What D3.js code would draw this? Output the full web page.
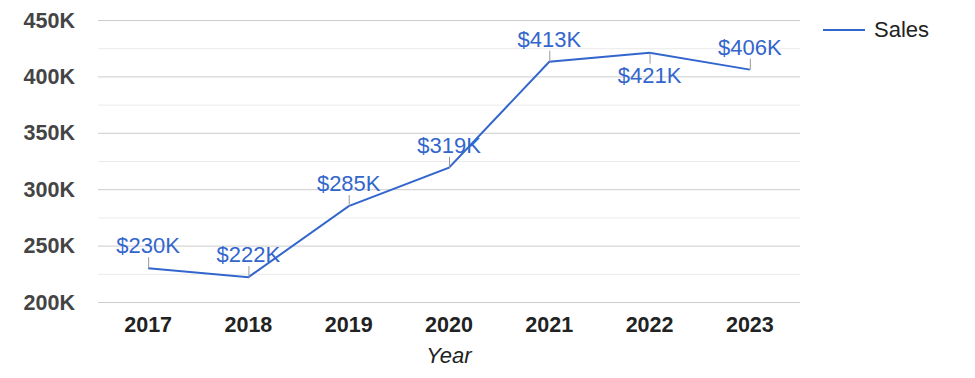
<!DOCTYPE html>
<html><head><meta charset="utf-8">
<script src="https://cdn.jsdelivr.net/npm/d3@7"></script>
<style>body{margin:0;background:#fff;font-family:Arial,"Liberation Sans",sans-serif;}</style>
</head><body><svg id="c" width="975" height="378"></svg>
<script>
const years = ["2017","2018","2019","2020","2021","2022","2023"];
const sales = [230, 222, 285, 319, 413, 421, 406];
const labelBelow = [false,false,false,false,false,true,false];
const yTicks = [200,250,300,350,400,450];
const yMinor = [225,275,325,375,425];
const seriesName = "Sales";
const xTitle = "Year";

const svg = d3.select("#c");
const m = {l:98, r:800, t:20, b:302};
const x = d3.scaleBand().domain(years).range([m.l, m.r]);
const y = d3.scaleLinear().domain([200,450]).range([m.b, m.t]);
const blue = "#3366cc";

svg.append("g").selectAll("line").data(yMinor).join("line")
  .attr("x1",m.l).attr("x2",m.r).attr("y1",d=>y(d)+0.5).attr("y2",d=>y(d)+0.5)
  .attr("stroke","#ebebeb");
svg.append("g").selectAll("line").data(yTicks).join("line")
  .attr("x1",m.l).attr("x2",m.r).attr("y1",d=>y(d)+0.5).attr("y2",d=>y(d)+0.5)
  .attr("stroke","#cccccc");

svg.append("g").selectAll("text").data(yTicks).join("text")
  .attr("x",75).attr("y",d=>y(d)).attr("dy","0.35em").attr("text-anchor","end")
  .attr("font-size",21.5).attr("font-weight","bold").attr("fill","#444")
  .text(d=>d+"K");

svg.append("g").selectAll("text").data(years).join("text")
  .attr("x",d=>x(d)+x.bandwidth()/2).attr("y",332).attr("text-anchor","middle")
  .attr("font-size",21.5).attr("font-weight","bold").attr("fill","#222")
  .text(d=>d);

svg.append("text").attr("x",(m.l+m.r)/2).attr("y",363).attr("text-anchor","middle")
  .attr("font-size",22).attr("font-style","italic").attr("fill","#222").text(xTitle);

const cx = d=>x(d)+x.bandwidth()/2;
const pts = years.map((d,i)=>({year:d, v:sales[i], below:labelBelow[i]}));

svg.append("path").datum(pts)
  .attr("d", d3.line().x(d=>cx(d.year)).y(d=>y(d.v)))
  .attr("fill","none").attr("stroke",blue).attr("stroke-width",2);

const lg = svg.append("g");
lg.selectAll("line").data(pts).join("line")
  .attr("x1",d=>cx(d.year)+0.5).attr("x2",d=>cx(d.year)+0.5)
  .attr("y1",d=>y(d.v)).attr("y2",d=>d.below? y(d.v)+11 : y(d.v)-11)
  .attr("stroke","#999").attr("stroke-width",1);
lg.selectAll("text").data(pts).join("text")
  .attr("x",d=>cx(d.year)).attr("y",d=>d.below? y(d.v)+30 : y(d.v)-15)
  .attr("text-anchor","middle").attr("font-size",22).attr("fill",blue)
  .text(d=>"$"+d.v+"K");

svg.append("line").attr("x1",823).attr("x2",865).attr("y1",30).attr("y2",30)
  .attr("stroke",blue).attr("stroke-width",2);
svg.append("text").attr("x",874).attr("y",37).attr("font-size",22).attr("fill","#222").text(seriesName);
</script></body></html>
